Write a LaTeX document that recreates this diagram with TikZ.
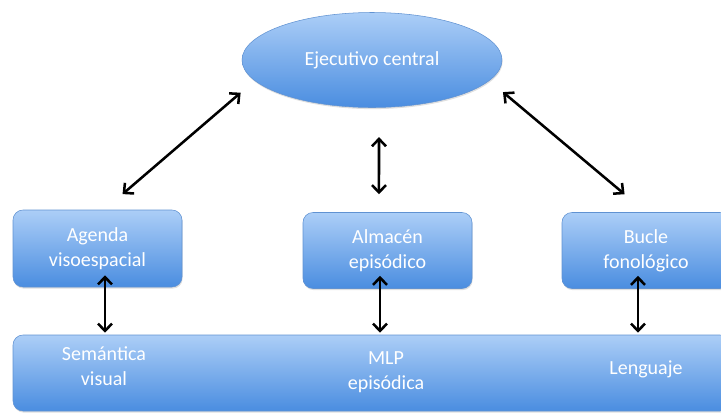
\documentclass[tikz,border=0pt]{standalone}
\usepackage{fontspec}
\setmainfont{Carlito}
\newcommand{\boxfont}{\fontsize{15}{18.75}\selectfont}
\definecolor{boxtop}{RGB}{172,206,247}
\definecolor{boxbot}{RGB}{74,141,224}
\definecolor{boxline}{RGB}{96,146,210}
\usetikzlibrary{arrows.meta,shapes.geometric,shadows,calc}

\begin{document}
\begin{tikzpicture}[x=0.75pt,y=-0.75pt,
	blue box/.style={draw=boxline, line width=0.4pt, top color=boxtop, bottom color=boxbot,
		text=white, align=center, font=\boxfont,
		drop shadow={opacity=0.25, shadow xshift=0.5pt, shadow yshift=-1.2pt}},
	round box/.style={blue box, rounded corners=7.5pt, minimum height=57pt},
	inner text/.style={text=white, align=center, font=\boxfont},
	both ways/.style={{Straight Barb[length=5.5pt,width=10.5pt]}-{Straight Barb[length=5.5pt,width=10.5pt]}, line width=1.9pt}]
	\useasboundingbox (0,0) rectangle (721,412);
	\node (ec) [blue box, ellipse, inner sep=0pt, minimum width=195pt, minimum height=71.25pt] at (372,60) {Ejecutivo central};
	\node (agenda) [round box, minimum width=126.75pt, minimum height=57.75pt] at (97.5,248.5) {Agenda\\visoespacial};
	\node (almacen) [round box, minimum width=126.75pt] at (387.5,250.5) {Almac\'en\\epis\'odico};
	\node (bucle) [round box, minimum width=126pt] at (646,250.5) {Bucle\\fonol\'ogico};
	\node (bar) [round box, minimum width=537.75pt] at (371.5,373) {};
	\node (sem) [inner text] at (104,366) {Sem\'antica\\visual};
	\node (mlp) [inner text] at (386,372) {MLP\\epis\'odica};
	\node (leng) [inner text] at (646,369) {Lenguaje};
	\path[both ways]
	(ec.190) edge [shorten <=13.8pt, shorten >=18pt] (agenda.80)
	(ec.350) edge [shorten <=13.3pt, shorten >=21pt] (bucle.north)
	([xshift=5.25pt]ec.south) edge [shorten <=22pt, shorten >=13.5pt] ([xshift=-6.4pt]almacen.north)
	($(agenda.south)+(7.5,-12)$) edge [shorten >=1.5pt] ($(agenda.south |- bar.north)+(7.5,0)$)
	($(almacen.south)+(-7.5,-13)$) edge [shorten >=1.5pt] ($(almacen.south |- bar.north)+(-7.5,0)$)
	($(bucle.south)+(-8,-13)$) edge [shorten >=1.5pt] ($(bucle.south |- bar.north)+(-8,0)$);
\end{tikzpicture}
\end{document}
